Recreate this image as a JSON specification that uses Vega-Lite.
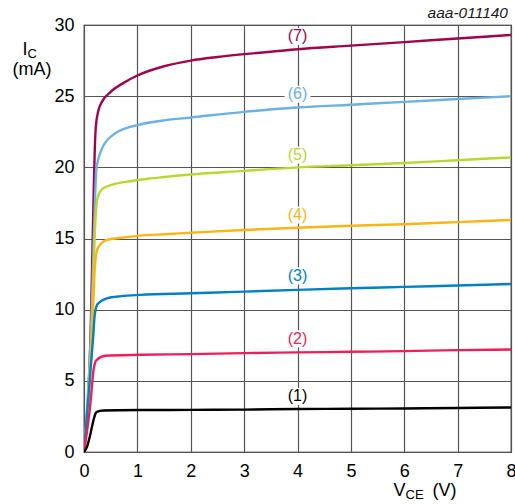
{
  "$schema": "https://vega.github.io/schema/vega-lite/v6.json",
  "width": 427,
  "height": 427,
  "autosize": {"type": "none"},
  "padding": {"left": 84, "top": 25, "right": 4, "bottom": 52},
  "background": "#ffffff",
  "title": {
    "text": "aaa-011140",
    "anchor": "end",
    "frame": "group",
    "font": "Liberation Sans",
    "fontSize": 15.5,
    "fontStyle": "italic",
    "fontWeight": "normal",
    "color": "#1a1a1a",
    "baseline": "alphabetic",
    "offset": -17,
    "dx": -3
  },
  "datasets": {
    "curves": [
      {"c": "7", "v": 0, "i": 0}, {"c": "7", "v": 0.13, "i": 9.3}, {"c": "7", "v": 0.18, "i": 18}, {"c": "7", "v": 0.2, "i": 21}, {"c": "7", "v": 0.22, "i": 22.8}, {"c": "7", "v": 0.27, "i": 24.0}, {"c": "7", "v": 0.335, "i": 24.6}, {"c": "7", "v": 0.5, "i": 25.3}, {"c": "7", "v": 0.75, "i": 25.95}, {"c": "7", "v": 1.0, "i": 26.45}, {"c": "7", "v": 1.5, "i": 27.1}, {"c": "7", "v": 2, "i": 27.5}, {"c": "7", "v": 2.5, "i": 27.75}, {"c": "7", "v": 3, "i": 27.95}, {"c": "7", "v": 3.5, "i": 28.12}, {"c": "7", "v": 4, "i": 28.3}, {"c": "7", "v": 5, "i": 28.55}, {"c": "7", "v": 6, "i": 28.8}, {"c": "7", "v": 7, "i": 29.05}, {"c": "7", "v": 8, "i": 29.3},
      {"c": "6", "v": 0, "i": 0}, {"c": "6", "v": 0.14, "i": 9.5}, {"c": "6", "v": 0.2, "i": 17}, {"c": "6", "v": 0.23, "i": 19.8}, {"c": "6", "v": 0.27, "i": 20.6}, {"c": "6", "v": 0.335, "i": 21.3}, {"c": "6", "v": 0.55, "i": 22.3}, {"c": "6", "v": 0.75, "i": 22.7}, {"c": "6", "v": 1, "i": 22.97}, {"c": "6", "v": 1.5, "i": 23.3}, {"c": "6", "v": 2, "i": 23.5}, {"c": "6", "v": 3, "i": 23.9}, {"c": "6", "v": 4, "i": 24.2}, {"c": "6", "v": 5, "i": 24.4}, {"c": "6", "v": 6, "i": 24.6}, {"c": "6", "v": 7, "i": 24.8}, {"c": "6", "v": 8, "i": 25.0},
      {"c": "5", "v": 0, "i": 0}, {"c": "5", "v": 0.15, "i": 9}, {"c": "5", "v": 0.21, "i": 16}, {"c": "5", "v": 0.23, "i": 17.2}, {"c": "5", "v": 0.27, "i": 18.05}, {"c": "5", "v": 0.35, "i": 18.5}, {"c": "5", "v": 0.55, "i": 18.8}, {"c": "5", "v": 0.86, "i": 19.02}, {"c": "5", "v": 1.2, "i": 19.2}, {"c": "5", "v": 1.5, "i": 19.32}, {"c": "5", "v": 2, "i": 19.5}, {"c": "5", "v": 3, "i": 19.75}, {"c": "5", "v": 4, "i": 20.0}, {"c": "5", "v": 5, "i": 20.15}, {"c": "5", "v": 6, "i": 20.3}, {"c": "5", "v": 7, "i": 20.5}, {"c": "5", "v": 8, "i": 20.7},
      {"c": "4", "v": 0, "i": 0}, {"c": "4", "v": 0.16, "i": 9}, {"c": "4", "v": 0.19, "i": 12}, {"c": "4", "v": 0.21, "i": 13.3}, {"c": "4", "v": 0.24, "i": 14.1}, {"c": "4", "v": 0.27, "i": 14.4}, {"c": "4", "v": 0.43, "i": 14.9}, {"c": "4", "v": 0.7, "i": 15.05}, {"c": "4", "v": 1.05, "i": 15.2}, {"c": "4", "v": 1.5, "i": 15.3}, {"c": "4", "v": 2, "i": 15.4}, {"c": "4", "v": 3, "i": 15.6}, {"c": "4", "v": 4, "i": 15.76}, {"c": "4", "v": 5, "i": 15.9}, {"c": "4", "v": 6, "i": 16.0}, {"c": "4", "v": 7, "i": 16.15}, {"c": "4", "v": 8, "i": 16.3},
      {"c": "3", "v": 0, "i": 0}, {"c": "3", "v": 0.17, "i": 8}, {"c": "3", "v": 0.2, "i": 9.6}, {"c": "3", "v": 0.23, "i": 10.2}, {"c": "3", "v": 0.27, "i": 10.45}, {"c": "3", "v": 0.43, "i": 10.8}, {"c": "3", "v": 0.7, "i": 10.95}, {"c": "3", "v": 1.05, "i": 11.04}, {"c": "3", "v": 2, "i": 11.15}, {"c": "3", "v": 3, "i": 11.27}, {"c": "3", "v": 4, "i": 11.39}, {"c": "3", "v": 5, "i": 11.5}, {"c": "3", "v": 6, "i": 11.6}, {"c": "3", "v": 7, "i": 11.7}, {"c": "3", "v": 8, "i": 11.8},
      {"c": "2", "v": 0, "i": 0}, {"c": "2", "v": 0.12, "i": 3.4}, {"c": "2", "v": 0.18, "i": 5.8}, {"c": "2", "v": 0.21, "i": 6.3}, {"c": "2", "v": 0.24, "i": 6.48}, {"c": "2", "v": 0.4, "i": 6.76}, {"c": "2", "v": 1.05, "i": 6.83}, {"c": "2", "v": 2, "i": 6.88}, {"c": "2", "v": 3, "i": 6.95}, {"c": "2", "v": 4, "i": 7.0}, {"c": "2", "v": 5, "i": 7.04}, {"c": "2", "v": 6, "i": 7.09}, {"c": "2", "v": 7, "i": 7.16}, {"c": "2", "v": 8, "i": 7.2},
      {"c": "1", "v": 0, "i": 0}, {"c": "1", "v": 0.06, "i": 0.4}, {"c": "1", "v": 0.116, "i": 1.2}, {"c": "1", "v": 0.18, "i": 2.27}, {"c": "1", "v": 0.21, "i": 2.65}, {"c": "1", "v": 0.24, "i": 2.82}, {"c": "1", "v": 0.365, "i": 2.92}, {"c": "1", "v": 1.05, "i": 2.95}, {"c": "1", "v": 2, "i": 2.96}, {"c": "1", "v": 3, "i": 2.98}, {"c": "1", "v": 4, "i": 3.02}, {"c": "1", "v": 5, "i": 3.04}, {"c": "1", "v": 6, "i": 3.06}, {"c": "1", "v": 7, "i": 3.09}, {"c": "1", "v": 8, "i": 3.13}
    ],
    "labels": [
      {"c": "1", "text": "(1)", "v": 4, "i": 3.9},
      {"c": "2", "text": "(2)", "v": 4, "i": 7.95},
      {"c": "3", "text": "(3)", "v": 4, "i": 12.37},
      {"c": "4", "text": "(4)", "v": 4, "i": 16.65},
      {"c": "5", "text": "(5)", "v": 4, "i": 20.86},
      {"c": "6", "text": "(6)", "v": 4, "i": 25.14},
      {"c": "7", "text": "(7)", "v": 4, "i": 29.2}
    ]
  },
  "layer": [
    {
      "data": {"name": "curves"},
      "mark": {"type": "line", "strokeWidth": 2.4, "interpolate": "monotone", "clip": true},
      "encoding": {
        "x": {
          "field": "v", "type": "quantitative",
          "scale": {"domain": [0, 8], "nice": false, "zero": false},
          "axis": {
            "orient": "bottom", "values": [0, 1, 2, 3, 4, 5, 6, 7, 8],
            "grid": true, "ticks": false, "domain": false, "labelFlush": false,
            "labelPadding": 10, "labelFontSize": 18,
            "title": "V", "titleFontSize": 18, "titleAlign": "left", "titleBaseline": "alphabetic",
            "titleX": 309, "titleY": 43
          }
        },
        "y": {
          "field": "i", "type": "quantitative",
          "scale": {"domain": [0, 30], "nice": false},
          "axis": {
            "orient": "left", "values": [0, 5, 10, 15, 20, 25, 30],
            "grid": true, "ticks": false, "domain": false,
            "labelPadding": 10, "labelFontSize": 18,
            "title": "I", "titleFontSize": 18, "titleAngle": 0, "titleAlign": "left", "titleBaseline": "alphabetic",
            "titleX": -62, "titleY": 29.5
          }
        },
        "color": {
          "field": "c", "type": "nominal",
          "scale": {"domain": ["1", "2", "3", "4", "5", "6", "7"], "range": ["#000000", "#ee1d5b", "#0081c6", "#fdb515", "#bcd631", "#6cb1e2", "#a0054b"]},
          "legend": null
        }
      }
    },
    {
      "data": {"name": "labels"},
      "mark": {"type": "point", "shape": "M-1.3,-0.85H1.3V0.85H-1.3Z", "size": 400, "filled": true, "fill": "#ffffff", "opacity": 1, "strokeWidth": 0},
      "encoding": {
        "x": {
          "field": "v", "type": "quantitative",
          "axis": {
            "orient": "bottom", "labels": false, "ticks": false, "domain": false, "grid": false,
            "title": "CE", "titleFontSize": 13, "titleAlign": "left", "titleBaseline": "alphabetic",
            "titleX": 321, "titleY": 46
          }
        },
        "y": {
          "field": "i", "type": "quantitative",
          "axis": {
            "orient": "left", "labels": false, "ticks": false, "domain": false, "grid": false,
            "title": "C", "titleFontSize": 13, "titleAngle": 0, "titleAlign": "left", "titleBaseline": "alphabetic",
            "titleX": -57, "titleY": 32
          }
        }
      }
    },
    {
      "data": {"name": "labels"},
      "mark": {"type": "text", "font": "Liberation Sans", "fontSize": 16, "align": "center", "baseline": "middle"},
      "encoding": {
        "x": {
          "field": "v", "type": "quantitative",
          "axis": {
            "orient": "bottom", "labels": false, "ticks": false, "domain": false, "grid": false,
            "title": "(V)", "titleFontSize": 18, "titleAlign": "left", "titleBaseline": "alphabetic",
            "titleX": 348, "titleY": 43
          }
        },
        "y": {
          "field": "i", "type": "quantitative",
          "axis": {
            "orient": "left", "labels": false, "ticks": false, "domain": false, "grid": false,
            "title": "(mA)", "titleFontSize": 18, "titleAngle": 0, "titleAlign": "center", "titleBaseline": "alphabetic",
            "titleX": -52.5, "titleY": 49.5
          }
        },
        "text": {"field": "text", "type": "nominal"},
        "color": {"field": "c", "type": "nominal", "legend": null}
      }
    }
  ],
  "resolve": {"axis": {"x": "independent", "y": "independent"}},
  "config": {
    "view": {"stroke": "#000000", "strokeWidth": 1.2},
    "axis": {
      "labelFont": "Liberation Sans",
      "titleFont": "Liberation Sans",
      "labelColor": "#000000",
      "titleColor": "#000000",
      "titleFontWeight": "normal",
      "gridColor": "#555555",
      "gridWidth": 1.2,
      "gridOpacity": 1
    }
  }
}
